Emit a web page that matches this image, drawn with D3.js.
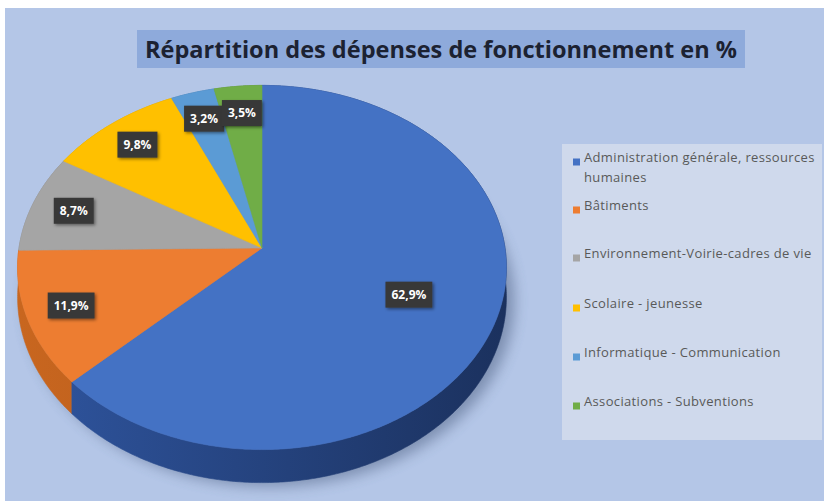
<!DOCTYPE html>
<html>
<head>
<meta charset="utf-8">
<script src="https://cdn.jsdelivr.net/npm/d3@7"></script>
<style>
  html, body { margin: 0; padding: 0; background: #ffffff; }
  svg { display: block; }
</style>
</head>
<body>
<svg id="chart" width="828" height="501"></svg>
<script>
// ---- data ----
const categories = [
  "Administration générale, ressources humaines",
  "Bâtiments",
  "Environnement-Voirie-cadres de vie",
  "Scolaire - jeunesse",
  "Informatique - Communication",
  "Associations - Subventions"
];
const values = [62.9, 11.9, 8.7, 9.8, 3.2, 3.5];
const topColors  = ["#4472C4", "#ED7D31", "#A5A5A5", "#FFC000", "#5B9BD5", "#70AD47"];
const sideColorsL = ["#2f559f", "#c8661f", "#8a8a8a", "#d9a300", "#4a82b5", "#5c9139"];
const sideColorsR = ["#1b315e", "#a4511a", "#6e6e6e", "#b48800", "#3b6a95", "#4a772e"];
const titleText = "Répartition des dépenses de fonctionnement en %";

// ---- layout ----
const W = 828, H = 501;
const CX = 262, CY = 248, RX = 243, RY = 180, A = 0.107, DEPTH = 29.5;

const svg = d3.select("#chart");
const defs = svg.append("defs");

// background
svg.append("rect").attr("x", 5).attr("y", 8).attr("width", 819).attr("height", 493)
  .attr("fill", "#b4c6e7");

// title box + title
svg.append("rect").attr("x", 137).attr("y", 30).attr("width", 608).attr("height", 38)
  .attr("fill", "#8eaadb");
svg.append("text").attr("x", 441).attr("y", 58).attr("text-anchor", "middle")
  .attr("font-family", "'Open Sans', 'Liberation Sans', sans-serif")
  .attr("font-weight", 700).attr("font-size", 23).attr("fill", "#1c2232")
  .attr("textLength", 592).attr("lengthAdjust", "spacingAndGlyphs")
  .text(titleText);

// filters
const shadow = defs.append("filter").attr("id", "pieShadow")
  .attr("x", "-20%").attr("y", "-20%").attr("width", "140%").attr("height", "140%");
shadow.append("feGaussianBlur").attr("stdDeviation", 7);

const lblShadow = defs.append("filter").attr("id", "lblShadow")
  .attr("x", "-30%").attr("y", "-30%").attr("width", "160%").attr("height", "160%");
lblShadow.append("feDropShadow").attr("dx", 1.5).attr("dy", 1.5).attr("stdDeviation", 1.5)
  .attr("flood-color", "#000").attr("flood-opacity", 0.45);

// projection of a point of the tilted disc
function proj(theta, r, z) {
  const u = Math.sin(theta), v = -Math.cos(theta);
  const f = 1 / (1 - A * r * v);
  return [CX + RX * r * u * f, CY + RY * r * v * f + z * DEPTH * f];
}
function arcPts(a0, a1, r, z) {
  const n = Math.max(2, Math.ceil(Math.abs(a1 - a0) / 0.01));
  const pts = [];
  for (let i = 0; i <= n; i++) pts.push(proj(a0 + (a1 - a0) * i / n, r, z));
  return pts;
}
const line = d3.line().curve(d3.curveLinear);

const pie = d3.pie().sort(null).startAngle(0).endAngle(2 * Math.PI).value(d => d);
const arcs = pie(values).map((d, i) => ({...d, i}));

const pieG = svg.append("g");

// soft shadow under pie
pieG.append("path")
  .attr("d", line(arcPts(0, 2 * Math.PI, 1.0, 1).map(p => [p[0] + 8, p[1] + 4])) + "Z")
  .attr("fill", "#3a4d70").attr("opacity", 0.45).attr("filter", "url(#pieShadow)");

// side walls: back to front
const frontness = a => Math.max(-Math.cos(a.startAngle), -Math.cos(a.endAngle),
  (a.startAngle <= Math.PI && a.endAngle >= Math.PI) ? 1 : -1);
const walls = arcs.slice().sort((a, b) => frontness(a) - frontness(b));
walls.forEach(d => {
  const top = arcPts(d.startAngle, d.endAngle, 1, 0);
  const bot = arcPts(d.endAngle, d.startAngle, 1, 1);
  const gid = "wall" + d.i;
  const g = defs.append("linearGradient").attr("id", gid)
    .attr("gradientUnits", "userSpaceOnUse")
    .attr("x1", CX - RX).attr("y1", 0).attr("x2", CX + RX).attr("y2", 0);
  g.append("stop").attr("offset", 0).attr("stop-color", sideColorsL[d.i]);
  g.append("stop").attr("offset", 1).attr("stop-color", sideColorsR[d.i]);
  pieG.append("path").attr("d", line(top.concat(bot)) + "Z")
    .attr("fill", `url(#${gid})`).attr("stroke", `url(#${gid})`).attr("stroke-width", 0.6);
});

// top faces
arcs.forEach(d => {
  const pts = [proj(0, 0, 0)].concat(arcPts(d.startAngle, d.endAngle, 1, 0));
  pieG.append("path").attr("d", line(pts) + "Z")
    .attr("fill", topColors[d.i]).attr("stroke", topColors[d.i]).attr("stroke-width", 0.6);
});

// data labels
const fmt = v => d3.format(".1f")(v).replace(".", ",") + "%";
const lblG = svg.append("g")
  .attr("font-family", "'Open Sans', 'Liberation Sans', sans-serif")
  .attr("font-weight", 700).attr("font-size", 12).attr("fill", "#ffffff");
arcs.forEach(d => {
  const mid = (d.startAngle + d.endAngle) / 2;
  const t = d.value > 50 ? 0.64 : 0.82;
  const [x, y] = proj(mid, t, 0);
  const g = lblG.append("g").attr("transform", `translate(${x},${y})`);
  const txt = g.append("text").attr("text-anchor", "middle").attr("dy", "0.35em")
    .text(fmt(d.value));
  const w = txt.node().getComputedTextLength() + 12;
  g.insert("rect", "text").attr("x", -w / 2).attr("y", -13).attr("width", w).attr("height", 26)
    .attr("fill", "#383838").attr("filter", "url(#lblShadow)");
});

// legend
svg.append("rect").attr("x", 562).attr("y", 144).attr("width", 260).attr("height", 296)
  .attr("fill", "#cfd9ec");
const legY = [162, 210, 258, 308, 357, 406];
const legG = svg.append("g")
  .attr("font-family", "'Open Sans', 'Liberation Sans', sans-serif")
  .attr("font-size", 13).attr("letter-spacing", 0.35).attr("fill", "#595959");
categories.forEach((c, i) => {
  const g = legG.append("g").attr("transform", `translate(573,${legY[i]})`);
  g.append("rect").attr("x", 0).attr("y", -3.5).attr("width", 7).attr("height", 7).attr("fill", topColors[i]);
  const txt = g.append("text").attr("x", 11).attr("dy", "0.35em");
  const words = c.split(" ");
  let lineWords = [];
  let tspan = txt.append("tspan").attr("x", 11).attr("dy", 0);
  words.forEach(wd => {
    lineWords.push(wd);
    tspan.text(lineWords.join(" "));
    if (tspan.node().getComputedTextLength() > 240 && lineWords.length > 1) {
      lineWords.pop();
      tspan.text(lineWords.join(" "));
      lineWords = [wd];
      tspan = txt.append("tspan").attr("x", 11).attr("dy", 20).text(wd);
    }
  });
});
</script>
</body>
</html>
